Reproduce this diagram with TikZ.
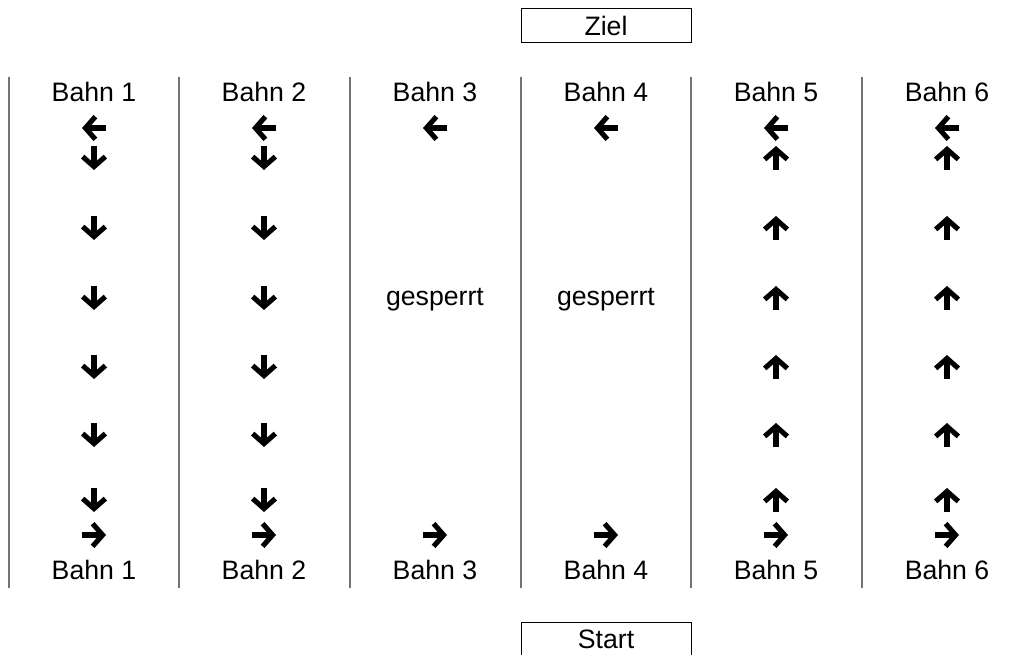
\documentclass[tikz,border=0pt]{standalone}
\usepackage{fontspec}
\setmainfont{Liberation Sans}
\usetikzlibrary{arrows.meta}
\tikzset{
  bahn/.style={draw=black!55, line width=0.9pt},
  pfeil/.style={line width=3.8pt, -{Straight Barb[length=7.5pt,width=17pt]}},
  txt/.style={font=\fontsize{20}{24}\selectfont, inner sep=0pt},
  schild/.style={txt, draw, line width=0.7pt, minimum width=127.5pt, minimum height=25.5pt}
}
\begin{document}
\begin{tikzpicture}[x=0.75pt,y=-0.75pt]
\useasboundingbox (0,0) rectangle (1020,655);
% Trennlinien zwischen den Bahnen
\foreach \x in {9,179,350,521,691,862}
   \draw[bahn] (\x,77)--(\x,588);
\node[schild] (ziel) at (606,25.5) {Ziel};
\node[schild] (start) at (606,639) {Start};
% Beschriftung und Wendepfeile
\foreach \cx [count=\i] in {94,264,435,606,776,947} {
   \node[txt, anchor=base] (oben\i) at (\cx,102) {Bahn \i};
   \node[txt, anchor=base] (unten\i) at (\cx,579) {Bahn \i};
   \draw[pfeil] (\cx+12,128)--(\cx-12,128);
   \draw[pfeil] (\cx-12,535)--(\cx+12,535);
}
% Bahn 1 und 2 abwaerts, Bahn 5 und 6 aufwaerts
\foreach \y in {158,228,298,367,435,500} {
   \foreach \cx in {94,264}
      \draw[pfeil] (\cx,\y-12)--(\cx,\y+12);
   \foreach \cx in {776,947}
      \draw[pfeil] (\cx,\y+12)--(\cx,\y-12);
}
      \node[txt, anchor=base] (gesperrt3) at (435,306) {gesperrt};
      \node[txt, anchor=base] (gesperrt4) at (606,306) {gesperrt};
\end{tikzpicture}
\end{document}
